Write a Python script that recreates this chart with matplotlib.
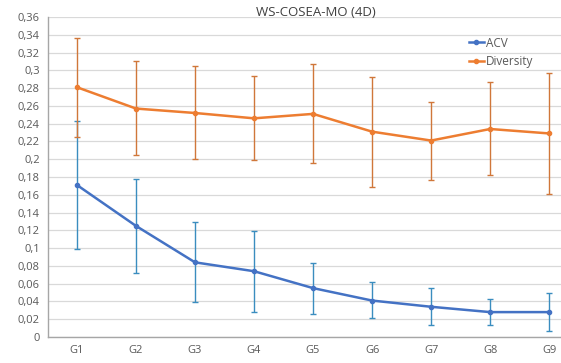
import matplotlib
matplotlib.use("Agg")
import matplotlib.pyplot as plt
from matplotlib.ticker import FuncFormatter, MultipleLocator

categories = ["G1", "G2", "G3", "G4", "G5", "G6", "G7", "G8", "G9"]
acv = [0.171, 0.125, 0.084, 0.074, 0.055, 0.041, 0.034, 0.028, 0.028]
acv_upper = [0.243, 0.178, 0.129, 0.119, 0.083, 0.062, 0.055, 0.043, 0.050]
acv_lower = [0.099, 0.072, 0.039, 0.028, 0.026, 0.021, 0.014, 0.013, 0.007]
div = [0.281, 0.257, 0.252, 0.246, 0.251, 0.231, 0.221, 0.234, 0.229]
div_upper = [0.336, 0.310, 0.305, 0.294, 0.307, 0.293, 0.264, 0.287, 0.297]
div_lower = [0.225, 0.205, 0.200, 0.199, 0.196, 0.169, 0.177, 0.182, 0.161]

plt.rcParams['font.family'] = ['Open Sans', 'DejaVu Sans']
W, H = 561, 363
fig = plt.figure(figsize=(W/100, H/100), dpi=100)
ax = fig.add_axes([48/W, (H-337)/H, (W-48)/W, (337-17)/H])

x = list(range(1, len(categories)+1))
acv_err = [[a-l for a, l in zip(acv, acv_lower)], [u-a for a, u in zip(acv, acv_upper)]]
div_err = [[a-l for a, l in zip(div, div_lower)], [u-a for a, u in zip(div, div_upper)]]

ax.errorbar(x, acv, yerr=acv_err, fmt='none', ecolor='#3A8DBF', elinewidth=1.0,
            capsize=2.5, capthick=1.0, zorder=2)
ax.errorbar(x, div, yerr=div_err, fmt='none', ecolor='#D0773A', elinewidth=1.0,
            capsize=2.5, capthick=1.0, zorder=2)
ax.plot(x, acv, color='#4472C4', lw=1.8, marker='o', ms=3, label='ACV', zorder=3)
ax.plot(x, div, color='#ED7D31', lw=1.8, marker='o', ms=3, label='Diversity', zorder=3)

ax.set_xlim(0.51, 9.2)
ax.set_ylim(0, 0.36)
ax.yaxis.set_major_locator(MultipleLocator(0.02))
ax.yaxis.set_major_formatter(FuncFormatter(lambda v, p: f"{round(v, 2):g}".replace('.', ',')))
ax.set_xticks(x)
ax.set_xticklabels(categories)
ax.grid(axis='y', color='#D9D9D9', lw=0.9, zorder=0)
ax.set_axisbelow(True)
for s in ['top', 'right']:
    ax.spines[s].set_visible(False)
for s in ['left', 'bottom']:
    ax.spines[s].set_color('#A6A6A6')
    ax.spines[s].set_linewidth(1.0)
ax.tick_params(axis='both', length=0, colors='#595959', labelsize=8)
ax.tick_params(axis='y', pad=6)
ax.tick_params(axis='x', pad=6)

fig.text(316/W, 1-12/H, "WS-COSEA-MO (4D)", ha='center', va='center', fontsize=9.5, color='#404040')

leg = fig.legend(loc='upper left', bbox_to_anchor=(458/W, 1-26/H), frameon=False,
                 fontsize=8.5, handlelength=1.3, handletextpad=0.2, labelspacing=0.45,
                 labelcolor='#595959')

fig.savefig("out.png", dpi=100)
